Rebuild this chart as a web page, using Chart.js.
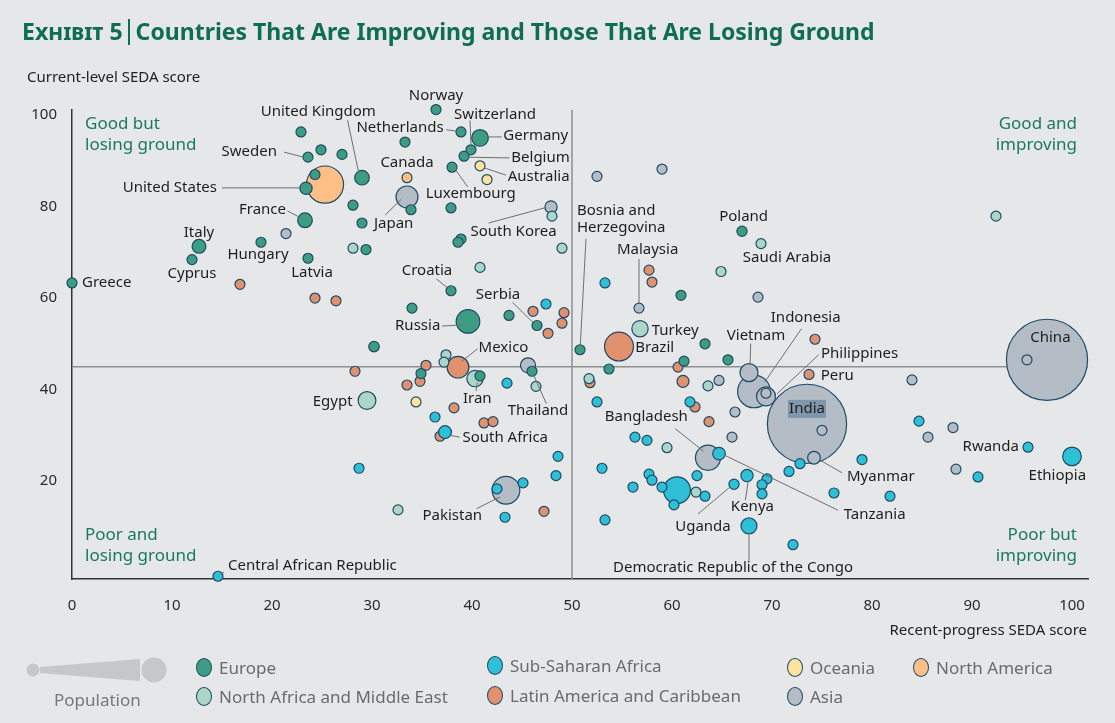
<!DOCTYPE html>
<html>
<head>
<meta charset="utf-8">
<script src="https://cdn.jsdelivr.net/npm/chart.js@4"></script>
<style>
  body { margin: 0; background: #e6e7e8; font-family: "Noto Sans", sans-serif; }
  #wrap { position: relative; width: 1115px; height: 723px; overflow: hidden; }
  #chart { position: absolute; left: 0; top: 0; }
  .title { position: absolute; left: 22px; top: 15px; font-size: 23px; font-weight: bold; color: #0f6e50; white-space: nowrap; }
  .title .sc { font-variant: small-caps; }
  .title .bar { display: inline-block; width: 2px; height: 26px; background: #0f6e50; vertical-align: -5px; margin: 0 6px 0 5px; }
  .axis-title { position: absolute; font-size: 15px; color: #222; white-space: nowrap; }
  .legend-item { position: absolute; font-size: 17px; color: #6b6b6b; white-space: nowrap; display: flex; align-items: center; }
  .legend-item i { display: inline-block; width: 16px; height: 19px; border-radius: 50%; border: 1.3px solid #1f4a66; margin-right: 7px; box-sizing: border-box; }
</style>
</head>
<body>
<div id="wrap">
  <canvas id="chart" width="1115" height="723"></canvas>
  <div class="title"><span class="sc">Exhibit 5</span><span class="bar"></span>Countries That Are Improving and Those That Are Losing Ground</div>
  <div class="axis-title" style="left:27px; top:66px;">Current-level SEDA score</div>
  <div class="axis-title" style="right:28px; top:619px;">Recent-progress SEDA score</div>

  <svg style="position:absolute; left:0; top:650px;" width="180" height="40">
    <circle cx="33" cy="20" r="6.5" fill="#c6c7c9"/>
    <polygon points="40,17 140,9 140,31 40,23" fill="#c6c7c9"/>
    <circle cx="154" cy="20" r="12.5" fill="#c6c7c9"/>
  </svg>
  <div class="legend-item" style="left:54px; top:688px; color:#777;">Population</div>
  <div id="legend"></div>
</div>

<script>
// [recent-progress score, current-level score, population (millions), label]
const europe = [
  [0, 63.3, 11, "Greece"], [22.9, 96.3, 6, ""], [24.9, 92.4, 6, ""], [27.0, 91.4, 5, ""],
  [23.6, 90.8, 10, "Sweden"], [24.3, 87.0, 9, ""], [29.0, 86.3, 65, "United Kingdom"],
  [23.4, 84.0, 50, ""], [28.1, 80.3, 5, ""], [23.3, 77.0, 66, "France"], [29.0, 76.4, 5, ""],
  [12.7, 71.3, 60, "Italy"], [18.9, 72.2, 10, "Hungary"], [29.4, 70.6, 5, ""],
  [12.0, 68.4, 1, "Cyprus"], [23.6, 68.7, 2, "Latvia"], [36.4, 101.2, 5, "Norway"],
  [38.9, 96.3, 17, "Netherlands"], [40.8, 95.0, 81, "Germany"], [33.3, 94.1, 5, ""],
  [39.9, 92.4, 8, "Switzerland"], [39.2, 91.0, 11, "Belgium"], [38.0, 88.6, 1, "Luxembourg"],
  [33.9, 79.3, 5, ""], [37.9, 79.7, 5, ""], [38.9, 72.9, 5, ""], [38.6, 72.2, 5, ""],
  [37.9, 61.6, 4, "Croatia"], [34.0, 57.8, 5, ""], [39.6, 54.9, 144, "Russia"],
  [43.7, 56.2, 5, ""], [46.5, 54.0, 7, "Serbia"], [30.2, 49.4, 40, ""],
  [50.8, 48.7, 4, "Bosnia and Herzegovina"], [60.9, 60.6, 5, ""], [67.0, 74.6, 38, "Poland"],
  [63.3, 50.0, 5, ""], [65.6, 46.5, 5, ""], [53.7, 44.5, 5, ""], [61.2, 46.2, 5, ""],
  [34.9, 43.5, 5, ""], [40.8, 43.0, 5, ""], [46.0, 44.0, 5, ""]
];

const northAfricaMiddleEast = [
  [28.1, 70.9, 5, ""], [48.0, 77.9, 5, ""], [49.0, 70.9, 5, ""], [40.8, 66.7, 5, ""],
  [64.9, 65.8, 5, ""], [68.9, 71.9, 31, "Saudi Arabia"], [92.4, 77.9, 5, ""],
  [56.8, 53.3, 78, "Turkey"], [29.5, 37.6, 90, "Egypt"], [37.4, 47.6, 5, ""], [37.2, 46.0, 5, ""],
  [40.3, 42.4, 78, "Iran"], [46.4, 40.7, 5, ""], [51.7, 42.4, 5, ""], [63.6, 40.8, 5, ""],
  [59.5, 27.3, 5, ""], [62.4, 17.6, 5, ""], [32.6, 13.7, 5, ""]
];

const subSaharanAfrica = [
  [14.6, -0.8, 5, "Central African Republic"], [28.7, 22.8, 5, ""], [47.4, 58.7, 5, ""],
  [53.3, 63.3, 5, ""], [43.5, 41.4, 5, ""], [36.3, 34.0, 5, ""], [37.3, 30.7, 54, "South Africa"],
  [48.6, 25.4, 5, ""], [48.4, 21.2, 5, ""], [42.5, 18.3, 5, ""], [45.1, 19.6, 5, ""],
  [43.3, 12.1, 5, ""], [53.0, 22.8, 5, ""], [53.3, 11.5, 5, ""], [52.5, 37.3, 5, ""],
  [61.8, 37.3, 5, ""], [56.3, 29.6, 5, ""], [57.5, 28.9, 5, ""], [64.7, 26.0, 52, "Tanzania"],
  [60.5, 18.0, 180, ""], [57.7, 21.5, 5, ""], [58.0, 20.2, 5, ""], [56.1, 18.7, 5, ""],
  [59.0, 18.7, 5, ""], [60.2, 14.8, 5, ""], [63.3, 16.7, 5, ""], [62.5, 21.2, 5, ""],
  [66.2, 19.3, 38, "Uganda"], [67.5, 21.2, 50, "Kenya"], [69.5, 20.5, 5, ""], [69.0, 19.2, 5, ""],
  [69.0, 17.2, 5, ""], [67.7, 10.2, 75, "Democratic Republic of the Congo"], [72.1, 6.1, 5, ""],
  [71.7, 22.1, 5, ""], [72.8, 23.8, 5, ""], [76.2, 17.4, 5, ""], [79.0, 24.7, 5, ""],
  [81.8, 16.7, 5, ""], [84.7, 33.1, 5, ""], [95.6, 27.4, 11, "Rwanda"],
  [100.0, 25.4, 97, "Ethiopia"], [90.6, 20.9, 5, ""]
];

const latinAmerica = [
  [16.8, 63.0, 5, ""], [24.3, 60.0, 5, ""], [26.4, 59.4, 5, ""], [28.3, 44.0, 5, ""],
  [46.1, 57.1, 5, ""], [49.2, 56.8, 5, ""], [49.0, 54.5, 5, ""], [47.6, 52.3, 5, ""],
  [54.7, 49.4, 205, "Brazil"], [38.6, 44.9, 125, "Mexico"], [35.4, 45.3, 5, ""],
  [34.8, 41.8, 5, ""], [33.5, 41.0, 5, ""], [38.2, 36.0, 5, ""], [41.2, 32.7, 5, ""],
  [42.1, 33.0, 5, ""], [36.8, 29.8, 5, ""], [47.2, 13.4, 5, ""], [51.8, 41.5, 5, ""],
  [57.7, 66.1, 5, ""], [58.0, 63.5, 5, ""], [60.6, 44.9, 5, ""], [61.1, 41.8, 48, ""],
  [62.3, 36.2, 5, ""], [63.7, 33.0, 5, ""], [73.7, 43.3, 31, "Peru"], [74.3, 51.0, 5, ""]
];

const oceania = [
  [40.8, 88.9, 24, "Australia"], [41.5, 85.9, 5, ""], [34.4, 37.3, 5, ""]
];

const northAmerica = [
  [25.3, 84.8, 320, "United States"], [33.5, 86.3, 36, "Canada"]
];

const asia = [
  [21.4, 74.1, 5, ""], [33.5, 82.1, 127, "Japan"], [47.9, 79.9, 50, "South Korea"],
  [52.5, 86.6, 5, ""], [59.0, 88.2, 5, ""], [56.7, 57.8, 30, "Malaysia"], [68.6, 60.2, 5, ""],
  [45.6, 45.3, 68, "Thailand"], [64.7, 42.0, 5, ""], [66.3, 35.1, 5, ""], [66.0, 29.6, 5, ""],
  [63.6, 25.1, 160, "Bangladesh"], [43.4, 18.0, 190, "Pakistan"], [67.7, 43.7, 92, "Vietnam"],
  [68.2, 39.6, 255, "Indonesia"], [69.4, 38.5, 100, "Philippines"], [69.4, 39.2, 5, ""],
  [73.5, 32.5, 1310, "India"], [75.0, 31.1, 5, ""], [74.2, 25.1, 53, "Myanmar"],
  [97.5, 46.5, 1370, "China"], [95.5, 46.5, 5, ""], [84.0, 42.1, 5, ""], [88.1, 31.7, 5, ""],
  [85.6, 29.6, 5, ""], [88.4, 22.6, 5, ""]
];

const xTicks = [0, 10, 20, 30, 40, 50, 60, 70, 80, 90, 100];
const yTicks = [20, 40, 60, 80, 100];
const xDivider = 50;
const yDivider = 45;

// regions, listed top layer first
const regions = [
  { name: "Europe", data: europe, color: "#3c9d83" },
  { name: "Sub-Saharan Africa", data: subSaharanAfrica, color: "#2fbfd7" },
  { name: "North Africa and Middle East", data: northAfricaMiddleEast, color: "#acd7c8" },
  { name: "Oceania", data: oceania, color: "#fde39d" },
  { name: "Latin America and Caribbean", data: latinAmerica, color: "#e2916f" },
  { name: "North America", data: northAmerica, color: "#fdbf86" },
  { name: "Asia", data: asia, color: "#b4bdc6" }
];

const radiusFor = pop => Math.max(5, 1.15 * Math.sqrt(pop) - 2);

// label placement: text offset from bubble centre, optional leader line [x1,y1,x2,y2]
const labelSpots = {
  "Greece": { t: [10, 0], a: "left" },
  "Italy": { t: [0, -14] },
  "Cyprus": { t: [0, 14] },
  "Hungary": { t: [-3, 12] },
  "Latvia": { t: [4, 14] },
  "France": { t: [-19, -10.5], a: "right", l: [-17.5, -9.3, -4, -2.3] },
  "United States": { t: [-108, 3.3], a: "right", l: [-103, 3.3, -26, 3.3] },
  "Sweden": { t: [-31, -5.7], a: "right", l: [-24, -5, -4.5, 0] },
  "United Kingdom": { t: [-43.7, -66.4], l: [-14.4, -57.4, -3.4, -5.5] },
  "Norway": { t: [0, -14] },
  "Switzerland": { t: [24, -35.4], l: [-1, -29.4, 0, -4.8] },
  "Netherlands": { t: [-17.4, -4.3], a: "right", l: [-14.7, -2.3, -4.5, -0.7] },
  "Germany": { t: [23.3, -2], a: "left", l: [8, -1, 21.7, -1] },
  "Belgium": { t: [47.3, 1.7], a: "left", l: [4.5, 1, 45.6, 1.7] },
  "Australia": { t: [27.7, 11], a: "left", l: [4.2, 2, 26, 9.3] },
  "Canada": { t: [0, -15] },
  "Luxembourg": { t: [18.7, 26.7], l: [3.8, 3, 15.7, 19.7] },
  "Japan": { t: [-13.4, 26.3], l: [-21.7, 18, -6, 2.6] },
  "South Korea": { t: [-37.4, 25], l: [-62.4, 16, -5.7, 0.7] },
  "Bosnia and Herzegovina": { t: [-3, -139.4], a: "left", two: "Herzegovina", l: [6, -111, 0.3, -4.7] },
  "Croatia": { t: [-24, -19.7], l: [-14.7, -12, -3.6, -2.8] },
  "Malaysia": { t: [8.6, -58.3], l: [0, -49.3, 0, -5] },
  "Poland": { t: [1.6, -14.7] },
  "Saudi Arabia": { t: [26, 14.3] },
  "Serbia": { t: [-39, -30.6], l: [-24.6, -23.3, -3.5, -2.5] },
  "Russia": { t: [-27.7, 4], a: "right", l: [-26, 4.7, -4.4, 3.4] },
  "Mexico": { t: [20.6, -19.3], a: "left", l: [19.6, -18.3, 4, -6] },
  "Iran": { t: [2.3, 20], l: [1, 12.3, 2.3, 4] },
  "Thailand": { t: [10, 45], l: [18.4, 38.4, 5, 8.4] },
  "South Africa": { t: [17.4, 5.7], a: "left", l: [5.5, 3.3, 14.7, 5] },
  "Pakistan": { t: [-53.7, 26], l: [-29.3, 18.4, -6, 6.7] },
  "Turkey": { t: [11.7, 1.6], a: "left" },
  "Brazil": { t: [16.3, 1.4], a: "left" },
  "Bangladesh": { t: [-61.7, -40.7], l: [-32.7, -29, -4.4, -6.4] },
  "Uganda": { t: [-31, 42], l: [-36, 29.7, -4.3, 3] },
  "Kenya": { t: [5.4, 31.3], l: [-1.6, 24.6, 1.2, 5.5] },
  "Democratic Republic of the Congo": { t: [-16, 42.3], l: [0, 35, 0, 9] },
  "Tanzania": { t: [124.7, 61], a: "left", l: [119, 56.6, 6.5, 2] },
  "Myanmar": { t: [33, 19.3], a: "left", l: [28, 15, 7, 3] },
  "India": { t: [0, -15], hl: true },
  "China": { t: [3.4, -21.7] },
  "Vietnam": { t: [7, -37.4], l: [1.7, -29, 1, -7.4] },
  "Indonesia": { t: [51.7, -73.6], l: [47.4, -62.6, 10.7, -9.3] },
  "Philippines": { t: [55, -42.6], a: "left", l: [52.6, -41.6, 11, -2.6] },
  "Peru": { t: [11.7, 1.7], a: "left" },
  "Rwanda": { t: [-9, 0], a: "right" },
  "Ethiopia": { t: [-14.7, 19.7] },
  "Egypt": { t: [-14.4, 0.7], a: "right" },
  "Central African Republic": { t: [10, -10.3], a: "left", l: [6, -4.3, 2.4, -1.6] }
};

const quadrantLabels = [
  { lines: ["Good but", "losing ground"], side: "left", top: true },
  { lines: ["Good and", "improving"], side: "right", top: true },
  { lines: ["Poor and", "losing ground"], side: "left", top: false },
  { lines: ["Poor but", "improving"], side: "right", top: false }
];

const datasets = regions.map((reg, i) => ({
  label: reg.name,
  order: i,
  data: reg.data.slice().sort((a, b) => b[2] - a[2])
    .map(p => ({ x: p[0], y: p[1], r: radiusFor(p[2]), name: p[3] })),
  backgroundColor: reg.color,
  borderColor: "#1f4a66",
  borderWidth: 1.2,
  hoverRadius: 0,
  clip: false
}));

// quadrant divider lines behind the bubbles
const dividerPlugin = {
  id: "dividers",
  beforeDatasetsDraw(chart) {
    const { ctx, chartArea, scales } = chart;
    const xp = scales.x.getPixelForValue(xDivider);
    const yp = scales.y.getPixelForValue(yDivider);
    ctx.save();
    ctx.strokeStyle = "#8e8f91";
    ctx.lineWidth = 1.5;
    ctx.beginPath();
    ctx.moveTo(xp, chartArea.top);
    ctx.lineTo(xp, chartArea.bottom);
    ctx.moveTo(chartArea.left, yp);
    ctx.lineTo(chartArea.right, yp);
    ctx.stroke();
    ctx.restore();
  }
};

// country names, leader lines and quadrant captions
const labelPlugin = {
  id: "countryLabels",
  afterDatasetsDraw(chart) {
    const { ctx, chartArea } = chart;
    ctx.save();
    ctx.font = '15px "Noto Sans"';
    ctx.textBaseline = "middle";
    chart.data.datasets.forEach((ds, di) => {
      const meta = chart.getDatasetMeta(di);
      ds.data.forEach((pt, i) => {
        const spot = labelSpots[pt.name];
        if (!spot) return;
        const el = meta.data[i];
        if (spot.l) {
          ctx.strokeStyle = "#6e6e6e";
          ctx.lineWidth = 1;
          ctx.beginPath();
          ctx.moveTo(el.x + spot.l[0], el.y + spot.l[1]);
          ctx.lineTo(el.x + spot.l[2], el.y + spot.l[3]);
          ctx.stroke();
        }
        const tx = el.x + spot.t[0];
        const ty = el.y + spot.t[1];
        ctx.textAlign = spot.a || "center";
        if (spot.hl) {
          const w = ctx.measureText(pt.name).width;
          ctx.fillStyle = "#8096ab";
          ctx.fillRect(tx - w / 2 - 1, ty - 9, w + 2, 18);
        }
        ctx.fillStyle = "#1e1e1e";
        if (spot.two) {
          ctx.fillText(pt.name.replace(" " + spot.two, ""), tx, ty);
          ctx.fillText(spot.two, tx, ty + 17.4);
        } else {
          ctx.fillText(pt.name, tx, ty);
        }
      });
    });

    ctx.font = '17px "Noto Sans"';
    ctx.fillStyle = "#1a7a5c";
    quadrantLabels.forEach(q => {
      ctx.textAlign = q.side;
      const x = q.side === "left" ? chartArea.left + 13 : chartArea.right - 11;
      const y0 = q.top ? chartArea.top + 14 : chartArea.bottom - 44;
      q.lines.forEach((line, k) => ctx.fillText(line, x, y0 + k * 21));
    });
    ctx.restore();
  }
};

new Chart(document.getElementById("chart"), {
  type: "bubble",
  data: { datasets },
  options: {
    responsive: false,
    animation: false,
    events: [],
    layout: { autoPadding: false, padding: { top: 110, right: 27, left: 0, bottom: 0 } },
    plugins: { legend: { display: false }, tooltip: { enabled: false } },
    scales: {
      x: {
        type: "linear",
        min: 0,
        max: 101.6,
        afterBuildTicks: s => { s.ticks = xTicks.map(v => ({ value: v })); },
        afterFit: s => { s.height = 144; },
        grid: { display: false, drawTicks: false },
        border: { display: true, color: "#333", width: 1.5 },
        ticks: { padding: 18, color: "#2a2a2a", font: { family: "Noto Sans", size: 15 }, maxRotation: 0 }
      },
      y: {
        type: "linear",
        min: -1.4,
        max: 101.1,
        afterBuildTicks: s => { s.ticks = yTicks.map(v => ({ value: v })); },
        afterFit: s => { s.width = 72; },
        grid: { display: false, drawTicks: false },
        border: { display: true, color: "#333", width: 1.5 },
        ticks: { padding: 15, color: "#2a2a2a", font: { family: "Noto Sans", size: 15 } }
      }
    }
  },
  plugins: [dividerPlugin, labelPlugin]
});

// legend
const legendPos = {
  "Europe": [196, 656], "North Africa and Middle East": [196, 685],
  "Sub-Saharan Africa": [487, 654], "Latin America and Caribbean": [487, 684],
  "Oceania": [787, 656], "Asia": [787, 685], "North America": [913, 656]
};
const legend = document.getElementById("legend");
regions.forEach(reg => {
  const pos = legendPos[reg.name];
  const item = document.createElement("div");
  item.className = "legend-item";
  item.style.left = pos[0] + "px";
  item.style.top = pos[1] + "px";
  item.innerHTML = '<i style="background:' + reg.color + '"></i>' + reg.name;
  legend.appendChild(item);
});
</script>
</body>
</html>
